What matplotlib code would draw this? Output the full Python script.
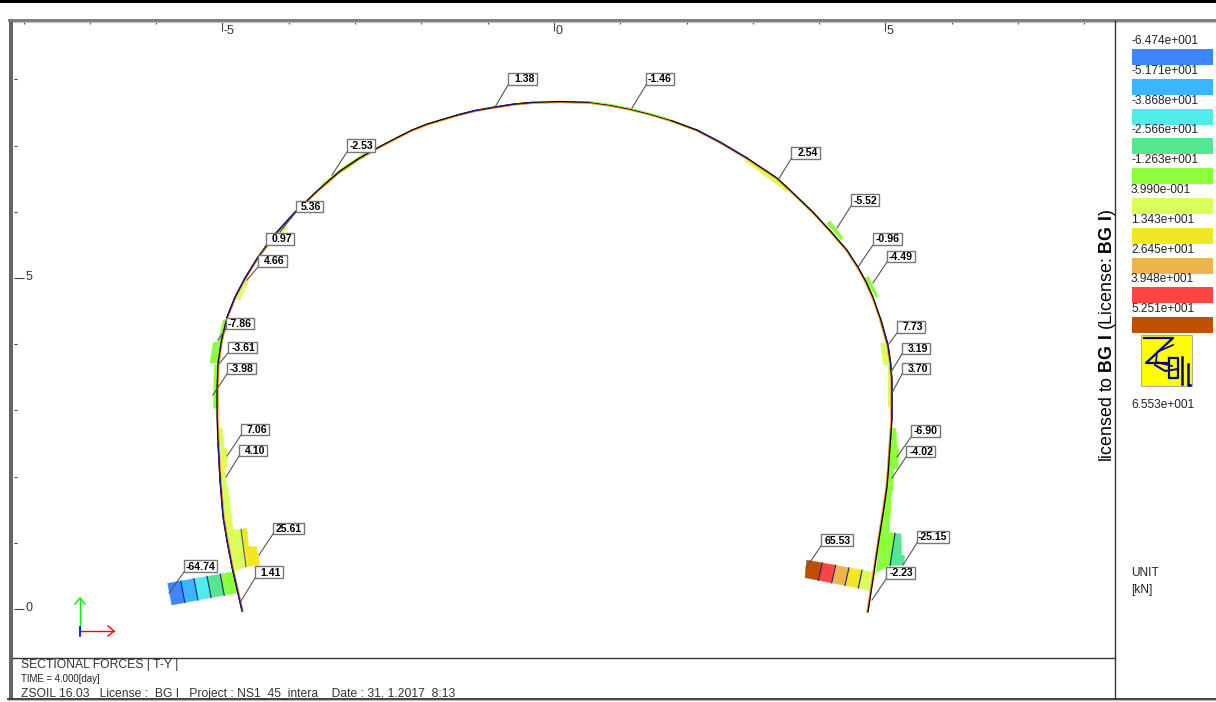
#!/usr/bin/env python3

from matplotlib import pyplot as plt
from matplotlib.patches import Polygon, Rectangle
from matplotlib.transforms import Affine2D

import numpy as np


W, H = 1216, 702

plt.rcParams['font.family'] = ['Liberation Sans', 'DejaVu Sans']
plt.rcParams['mathtext.fontset'] = 'custom'
plt.rcParams['mathtext.rm'] = 'Liberation Sans'
plt.rcParams['mathtext.bf'] = 'Liberation Sans:bold'

BLUE, SKY, CYAN, GREEN, LIME = '#3F85FF', '#38B6FF', '#50EBEB', '#55E690', '#8CFF3C'
PALE, YELLOW, ORANGE, RED, BROWN = '#DAFF5A', '#F2E723', '#ECB34E', '#FF4444', '#C05000'

level_labels = ['-6.474e+001', '-5.171e+001', '-3.868e+001', '-2.566e+001', '-1.263e+001',
                '3.990e-001', '1.343e+001', '2.645e+001', '3.948e+001', '5.251e+001']
level_colors = [BLUE, SKY, CYAN, GREEN, LIME, PALE, YELLOW, ORANGE, RED, BROWN]
last_level = '6.553e+001'

# lining axis, from the left foot over the crown to the right foot
arch = np.array([
    (-4.706, -0.030), (-4.857, 0.634), (-4.932, 1.027), (-4.992, 1.390), (-5.038, 1.949),
    (-5.068, 2.508), (-5.083, 2.900), (-5.083, 3.308), (-5.068, 3.716), (-5.015, 4.063),
    (-4.932, 4.411), (-4.811, 4.713), (-4.661, 5.000), (-4.465, 5.317), (-4.193, 5.680),
    (-3.906, 5.997), (-3.560, 6.329), (-3.228, 6.616), (-2.956, 6.798), (-2.670, 6.964),
    (-2.353, 7.130), (-2.142, 7.236), (-1.916, 7.326), (-1.463, 7.462), (-1.192, 7.530),
    (-0.890, 7.583), (-0.603, 7.628), (-0.317, 7.654), (0.090, 7.666), (0.543, 7.654),
    (0.845, 7.613), (1.146, 7.553), (1.448, 7.477), (1.750, 7.387), (2.157, 7.236),
    (2.504, 7.054), (2.911, 6.813), (3.363, 6.511), (3.560, 6.329), (3.906, 5.997),
    (4.163, 5.718), (4.419, 5.423), (4.585, 5.166), (4.706, 4.947), (4.811, 4.713),
    (4.932, 4.366), (5.038, 3.988), (5.075, 3.731), (5.098, 3.459), (5.098, 2.855),
    (5.068, 2.447), (5.048, 2.145), (5.023, 1.843), (4.973, 1.495), (4.917, 1.148),
    (4.864, 0.801), (4.811, 0.438), (4.736, -0.045),
])
navy_parts = [(0, 5), (10, 15), (23, 27), (34, 36), (45, 49)]

# colour bands of the two foot blocks
left_foot_top = [(-5.827, 0.388), (-5.629, 0.423), (-5.431, 0.458), (-5.233, 0.493), (-5.035, 0.528), (-4.837, 0.563)]
left_foot_bot = [(-5.766, 0.060), (-5.568, 0.097), (-5.370, 0.134), (-5.172, 0.171), (-4.974, 0.208), (-4.777, 0.246)]
left_foot_colors = [BLUE, SKY, CYAN, GREEN, LIME]
right_foot_top = [(3.811, 0.740), (4.047, 0.696), (4.249, 0.660), (4.449, 0.622), (4.646, 0.586), (4.852, 0.548)]
right_foot_bot = [(3.786, 0.473), (3.986, 0.434), (4.188, 0.394), (4.389, 0.355), (4.590, 0.316), (4.781, 0.272)]
right_foot_colors = [BROWN, RED, ORANGE, YELLOW, PALE]

# force diagram pieces along the lining
blocks = [
    (PALE, [(-5.078, 2.730), (-4.997, 2.730), (-4.982, 2.427), (-4.937, 2.427), (-4.917, 2.150),
            (-4.958, 2.150), (-4.958, 1.974), (-4.913, 1.798), (-4.842, 1.204), (-4.721, 1.204),
            (-4.646, 0.639), (-4.827, 0.574), (-4.857, 0.634), (-4.992, 1.390), (-5.068, 2.508)]),
    (YELLOW, [(-4.721, 1.204), (-4.635, 1.219), (-4.605, 0.941), (-4.490, 0.941), (-4.434, 0.665), (-4.646, 0.639)]),
    (LIME, [(5.094, 2.730), (5.158, 2.730), (5.178, 2.412), (5.199, 2.412), (5.189, 2.125), (5.118, 2.110),
            (5.118, 1.798), (5.094, 1.772), (5.057, 1.159), (5.143, 1.144), (5.068, 0.665), (4.857, 0.548),
            (4.917, 1.148), (5.023, 1.843), (5.068, 2.447)]),
    (GREEN, [(5.143, 1.144), (5.234, 1.133), (5.244, 0.816), (5.294, 0.801), (5.269, 0.665), (5.068, 0.654)]),
    (LIME, [(-4.988, 4.366), (-4.947, 4.335), (-5.068, 3.716), (-5.189, 3.716), (-5.139, 4.033), (-5.068, 4.033)]),
    (LIME, [(-5.124, 3.686), (-5.078, 3.686), (-5.083, 3.032), (-5.139, 3.032)]),
    (PALE, [(-4.596, 4.980), (-4.736, 4.668), (-4.786, 4.678), (-4.635, 4.980)]),
    (PALE, [(-4.087, 5.785), (-4.008, 5.770), (-4.133, 5.665), (-4.170, 5.680)]),
    (PALE, [(-4.297, 5.498), (-4.434, 5.347), (-4.457, 5.355), (-4.314, 5.506)]),
    (LIME, [(-3.522, 6.390), (-3.484, 6.435), (-3.152, 6.692), (-2.745, 6.971), (-2.745, 6.934), (-3.077, 6.677), (-3.379, 6.495)]),
    (LIME, [(4.163, 5.861), (4.363, 5.609), (4.329, 5.574), (4.113, 5.826)]),
    (LIME, [(4.741, 5.030), (4.891, 4.718), (4.852, 4.709), (4.691, 4.996)]),
    (PALE, [(4.906, 4.355), (4.947, 4.366), (5.038, 3.988), (5.098, 3.686), (4.970, 3.686), (4.925, 4.014), (5.000, 4.014)]),
    (PALE, [(5.038, 3.671), (5.098, 3.671), (5.098, 3.051), (5.045, 3.051)]),
    (PALE, [(2.881, 6.828), (3.529, 6.360), (3.514, 6.299), (2.881, 6.767)]),
]

label_texts = ['1.38', '-1.46', '-2.53', '2.54', '-5.52', '-0.96', '-4.49', '7.73', '3.19', '3.70', '-6.90', '-4.02',
               '-25.15', '-2.23', '65.53', '25.61', '1.41', '-64.74', '7.06', '4.10', '5.36', '0.97', '4.66', '-7.86',
               '-3.61', '-3.98']
# box left, top, right, bottom and leader end, in picture pixels
label_places = [
    (508, 73, 537, 85, 495, 107), (646, 73, 674, 85, 632, 108), (347, 139, 375, 152, 332, 175),
    (791, 147, 820, 159, 778, 180), (851, 194, 879, 206, 837, 228), (873, 233, 902, 245, 858, 267),
    (887, 251, 915, 262, 873, 283), (897, 321, 925, 333, 888, 345), (902, 343, 930, 354, 891, 372),
    (902, 363, 930, 374, 892, 393), (911, 425, 940, 437, 897, 457), (906, 446, 935, 457, 892, 478),
    (917, 531, 949, 543, 903, 565), (886, 567, 915, 579, 872, 600), (821, 534, 853, 546, 806, 568),
    (273, 523, 304, 534, 259, 555), (255, 566, 283, 578, 241, 601), (184, 560, 217, 572, 169, 593),
    (241, 424, 269, 435, 227, 456), (239, 445, 267, 456, 226, 477), (296, 201, 323, 212, 280, 232),
    (266, 233, 294, 245, 260, 255), (258, 255, 287, 267, 247, 280), (226, 318, 254, 329, 218, 340),
    (228, 342, 257, 353, 218, 365), (227, 363, 256, 374, 213, 395),
]

fig = plt.figure(figsize=(W / 100, H / 100), dpi=100)
px = Affine2D().scale(1 / W, -1 / H).translate(0, 1) + fig.transFigure


def pline(xs, ys, color='black', lw=1.0, **kw):
    fig.add_artist(plt.Line2D(xs, ys, transform=px, color=color, linewidth=lw, **kw))


def ptext(x, y, s, size=8.6, color='#222222', **kw):
    kw.setdefault('va', 'center')
    fig.text(x, y, s, transform=px, fontsize=size, color=color, **kw)


# model axes, 66.3 pixels per unit across and 66.2 up
ax = fig.add_axes([14 / W, 1 - 657 / H, (1114.5 - 14) / W, (657 - 21) / H])
ax.set_xlim((14 - 554) / 66.3, (1114.5 - 554) / 66.3)
ax.set_ylim((609 - 657) / 66.2, (609 - 21) / 66.2)
for side in ['right', 'bottom', 'left', 'top']:
    ax.spines[side].set_visible(False)
ax.xaxis.tick_top()
ax.set_xticks(np.arange(-8, 9))
ax.set_yticks(np.arange(0, 9))
ax.set_xticklabels([])
ax.set_yticklabels([])
ax.tick_params(axis='both', direction='in', length=2.5, width=0.8, color='#444444')
for tick in ax.xaxis.get_major_ticks() + ax.yaxis.get_major_ticks():
    if tick.get_loc() % 5 == 0:
        tick.tick1line.set_markersize(7)
        tick.tick2line.set_markersize(7)
for value in [-5, 0, 5]:
    ax.annotate(str(value), (value, ax.get_ylim()[1]), xytext=(1, -7.5), textcoords='offset points',
                fontsize=9, color='#333333', va='center')
for value in [0, 5]:
    ax.annotate(str(value), (ax.get_xlim()[0], value), xytext=(8, 0.5), textcoords='offset points',
                fontsize=9, color='#333333', va='center')

for color, points in blocks:
    ax.add_patch(Polygon(points, closed=True, facecolor=color, edgecolor=color, linewidth=0.3, zorder=2))

for top, bot, colors in [(left_foot_top, left_foot_bot, left_foot_colors),
                         (right_foot_top, right_foot_bot, right_foot_colors)]:
    for i, color in enumerate(colors):
        ax.add_patch(Polygon([top[i], top[i + 1], bot[i + 1], bot[i]], closed=True,
                             facecolor=color, edgecolor=color, linewidth=0.3, zorder=2))
    for t, b in list(zip(top, bot))[1:-1]:
        ax.plot([t[0], b[0]], [t[1], b[1]], color='#20207A', linewidth=0.8, zorder=3)
ax.plot([-4.721, -4.646], [1.204, 0.639], color='#555577', linewidth=0.8, zorder=3)
ax.plot([5.143, 5.068], [1.144, 0.654], color='#20207A', linewidth=0.8, zorder=3)

# the orange line runs just on the inner side of the axis
steps = np.gradient(arch, axis=0)
normals = np.column_stack([steps[:, 1], -steps[:, 0]]) / np.linalg.norm(steps, axis=1)[:, None]
inner = arch + 0.012 * normals
ax.plot(inner[:, 0], inner[:, 1], color='#F28C1E', linewidth=1.2, zorder=4)
ax.plot(arch[:, 0], arch[:, 1], color='black', linewidth=0.9, zorder=5)
for first, last in navy_parts:
    ax.plot(arch[first:last + 1, 0], arch[first:last + 1, 1], color='#1A1A8C', linewidth=0.9, zorder=6)
ax.plot(arch[29:34, 0], arch[29:34, 1] + 0.01, color=LIME, linewidth=0.8, zorder=6)

# value labels
for text, (left, top, right, bottom, tipx, tipy) in zip(label_texts, label_places):
    pline([left, tipx], [bottom, tipy], color='#555555', lw=0.8, zorder=7)
    fig.add_artist(Rectangle((left, top), right - left, bottom - top, transform=px,
                             facecolor='white', edgecolor='#777777', linewidth=1.0, zorder=8))
    ptext(right - 2, (top + bottom) / 2 + 0.5, text, size=7.6, color='black', ha='right',
          fontweight='bold', zorder=9)

# window frame
fig.add_artist(Rectangle((0, 0), W, 2.5, transform=px, facecolor='black', edgecolor='none'))
fig.add_artist(Rectangle((8.5, 19), 4.5, 680, transform=px, facecolor='#666666', edgecolor='none'))
pline([8.5, W], [20, 20], color='#777777', lw=2.0)
pline([13, W], [22, 22], color='#BBBBBB', lw=0.8)
pline([13, 1114.5], [657.5, 657.5], color='#333333', lw=1.0)
pline([1114.5, 1114.5], [21, 698], color='#333333', lw=1.0)
pline([8, W], [698.5, 698.5], color='#333333', lw=1.3)
pline([8, W], [700, 700], color='#BBBBBB', lw=0.8)

# colour scale
for i, (text, color) in enumerate(zip(level_labels, level_colors)):
    y = 49 + 29.8 * i
    fig.add_artist(Rectangle((1131.5, y), 81.5, 16, transform=px, facecolor=color, edgecolor='none'))
    ptext(1131, y - 8, text)
ptext(1131, 405, last_level)
ptext(1131, 573, 'UNIT')
ptext(1131, 590.5, '[kN]')

# logo
fig.add_artist(Rectangle((1140.5, 335), 51, 51, transform=px, facecolor='#FFFF00', edgecolor='#AAAAAA', linewidth=0.8))
NAVY = '#00008B'
pline([1144, 1173, 1146, 1168], [338, 338, 363, 363], color=NAVY, lw=1.6)
pline([1155, 1165, 1178], [365, 371, 369], color=NAVY, lw=1.4)
pline([1169, 1178, 1178, 1169, 1169], [358, 358, 378, 378, 358], color=NAVY, lw=1.6)
pline([1182, 1182], [357, 384], color=NAVY, lw=1.8)
pline([1188, 1188, 1190], [364, 385, 385], color=NAVY, lw=1.8)
pline([1173, 1157, 1156, 1172], [345, 352, 362, 366], color=NAVY, lw=1.2)

ptext(1107, 335, r'licensed to $\mathbf{BG\ I}$ (License: $\mathbf{BG\ I}$)', size=12.8, color='black',
      rotation=90, ha='center')

# coordinate triad
for end, color in [((114, 631), '#FF0000'), ((80, 598), '#00EE00')]:
    fig.add_artist(plt.Line2D([80, end[0]], [631, end[1]], transform=px, color=color, linewidth=1.0))
pline([108, 114, 108], [626, 631, 636], color='#FF0000', lw=1.0)
pline([75, 80, 85], [604, 598, 604], color='#00EE00', lw=1.0)
pline([80, 80], [627, 636], color='#0000FF', lw=1.2)

# footer
ptext(21, 665, 'SECTIONAL FORCES | T-Y |', size=8.7, color='#333333')
ptext(21, 679, 'TIME = 4.000[day]', size=6.9, color='#222222')
ptext(21, 693.5, 'ZSOIL 16.03   License :  BG I   Project : NS1_45_intera    Date : 31. 1.2017  8:13',
      size=8.7, color='#333333')

plt.savefig('out.png', dpi=100)
